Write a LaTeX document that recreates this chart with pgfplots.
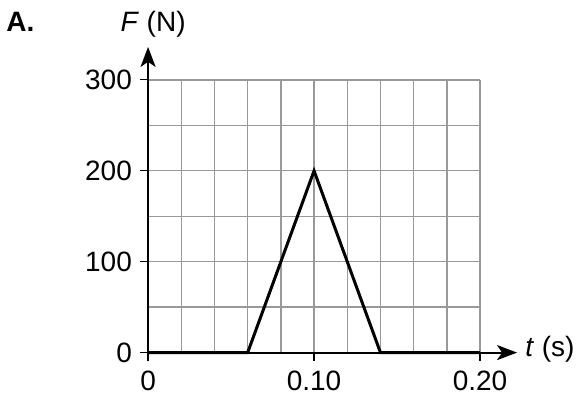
\documentclass[border=0pt]{standalone}
\usepackage{pgfplots}
\pgfplotsset{compat=1.18}
\usepackage{fontspec}
\setmainfont{Liberation Sans}
\usetikzlibrary{arrows.meta}
\begin{document}
\begin{tikzpicture}
\begin{axis}[
  scale only axis, width=332pt, height=272.7pt,
  xmin=0, xmax=0.2, ymin=0, ymax=300,
  axis lines=left,
  x axis line style={line width=2pt, -{Stealth[length=20pt,width=15pt,inset=5pt]}, shorten >=-37pt},
  y axis line style={line width=2pt, -{Stealth[length=20pt,width=15pt,inset=5pt]}, shorten >=-33pt},
  xtick={0,0.1,0.2}, xticklabels={0,0.10,0.20},
  ytick={0,100,200,300},
  minor xtick={0.02,0.04,0.06,0.08,0.12,0.14,0.16,0.18},
  minor ytick={50,150,250},
  grid=both,
  major grid style={draw=black!40, line width=1.4pt},
  minor grid style={draw=black!40, line width=1.4pt},
  tick align=outside, major tick length=8pt, minor tick length=0pt,
  every tick/.style={black, line width=1.2pt},
  ticklabel style={font=\fontsize{28}{32}\selectfont},
  xticklabel style={inner sep=0pt, yshift=-10pt},
  yticklabel style={inner sep=0pt, xshift=-8pt},
  /pgf/number format/assume math mode=true,
  clip=false,
]
\addplot[black, line width=3pt] coordinates {(0,0) (0.06,0) (0.10,200) (0.14,0) (0.2,0)};
\node[anchor=base, font=\fontsize{28}{32}\selectfont, inner sep=0pt] at (axis cs:0.003,353) {\textit{F} (N)};
\node[anchor=base west, font=\fontsize{28}{32}\selectfont\bfseries, inner sep=0pt] at (axis cs:-0.0855,353) {A.};
\node[anchor=west, font=\fontsize{28}{32}\selectfont, inner sep=0pt] at (axis cs:0.2271,3.3) {\textit{t} (s)};
\coordinate (bbtr) at (axis cs:0.2608,387.9);
\coordinate (bbbl) at (axis cs:-0.0892,-51.6);
\end{axis}
\pgfresetboundingbox
\path (bbbl) rectangle (bbtr);
\end{tikzpicture}
\end{document}
